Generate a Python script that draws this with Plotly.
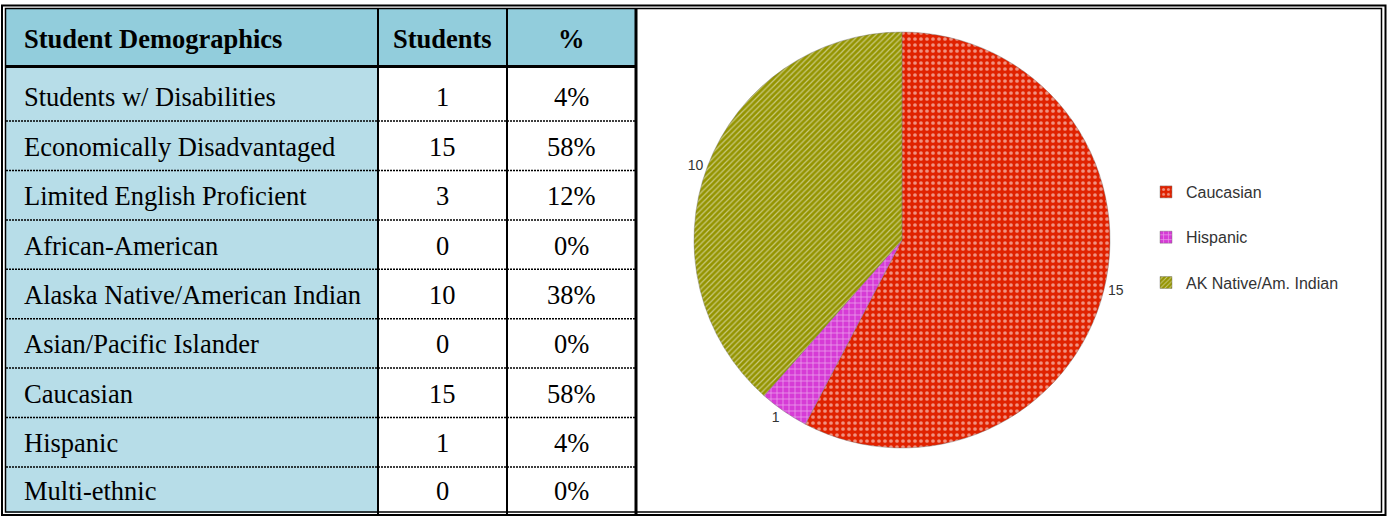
import plotly.graph_objects as go

# ---------------- data ----------------
table_header = ["Student Demographics", "Students", "%"]
categories = [
    "Students w/ Disabilities",
    "Economically Disadvantaged",
    "Limited English Proficient",
    "African-American",
    "Alaska Native/American Indian",
    "Asian/Pacific Islander",
    "Caucasian",
    "Hispanic",
    "Multi-ethnic",
]
students = [1, 15, 3, 0, 10, 0, 15, 1, 0]
percents = ["4%", "58%", "12%", "0%", "38%", "0%", "58%", "4%", "0%"]

pie_labels = ["Caucasian", "Hispanic", "AK Native/Am. Indian"]
pie_values = [15, 1, 10]

# ---------------- styles / layout geometry (pixels) ----------------
W, H = 1387, 517
COL_X = [6, 378, 507, 636]
HEADER_Y = (9, 66.5)
ROW_TOP = 67
ROW_BOUNDS = [ROW_TOP, 121, 170.4, 219.9, 269.3, 318.7, 368.1, 417.6, 467, 513]
HEADER_BG = "#92cddc"
COL1_BG = "#b7dde8"
SERIF = "Liberation Serif, Times New Roman, serif"
SANS = "Liberation Sans, Arial, sans-serif"
FS = 26.5
PIE_COLORS = ["#e02200", "#d63bd6", "#949400"]
PIE_SHAPES = [".", "+", "/"]
PIE_PSIZE = [6, 6, 4]
PIE_SOLID = [0.3, 0.25, 0.3]


def px(x):
    return x / W


def py(y):
    return 1 - y / H


shapes = []
annotations = []

shapes.append(dict(type="rect", xref="paper", yref="paper",
                   x0=px(COL_X[0]), x1=px(COL_X[3]), y0=py(HEADER_Y[0]), y1=py(HEADER_Y[1]),
                   fillcolor=HEADER_BG, line=dict(width=0), layer="below"))
shapes.append(dict(type="rect", xref="paper", yref="paper",
                   x0=px(COL_X[0]), x1=px(COL_X[1]), y0=py(ROW_TOP), y1=py(ROW_BOUNDS[-1]),
                   fillcolor=COL1_BG, line=dict(width=0), layer="below"))

hx = [22, (COL_X[1] + COL_X[2]) / 2, (COL_X[2] + COL_X[3]) / 2]
for i, t in enumerate(table_header):
    annotations.append(dict(xref="paper", yref="paper", x=px(hx[i]),
                            y=py((HEADER_Y[0] + HEADER_Y[1]) / 2 + 1), text="<b>%s</b>" % t,
                            showarrow=False, xanchor="left" if i == 0 else "center",
                            yanchor="middle", font=dict(family=SERIF, size=FS, color="black")))

for r, (cat, n, p) in enumerate(zip(categories, students, percents)):
    yc = (ROW_BOUNDS[r] + ROW_BOUNDS[r + 1]) / 2 + (3 if r == 0 else 1)
    for xv, txt, anc in ((hx[0], cat, "left"), (hx[1], str(n), "center"), (hx[2], p, "center")):
        annotations.append(dict(xref="paper", yref="paper", x=px(xv), y=py(yc), text=txt,
                                showarrow=False, xanchor=anc, yanchor="middle",
                                font=dict(family=SERIF, size=FS, color="black")))

for yb in ROW_BOUNDS[1:-1]:
    shapes.append(dict(type="line", xref="paper", yref="paper",
                       x0=px(COL_X[0]), x1=px(COL_X[3]), y0=py(yb), y1=py(yb),
                       line=dict(color="black", width=1.5, dash="2px,1px")))

shapes.append(dict(type="line", xref="paper", yref="paper",
                   x0=px(COL_X[0]), x1=px(COL_X[3]), y0=py(66.5), y1=py(66.5),
                   line=dict(color="black", width=3)))
for cx in COL_X[1:3]:
    shapes.append(dict(type="line", xref="paper", yref="paper", x0=px(cx), x1=px(cx),
                       y0=py(9), y1=py(514), line=dict(color="black", width=2)))
shapes.append(dict(type="line", xref="paper", yref="paper", x0=px(636), x1=px(636),
                   y0=py(9), y1=py(514), line=dict(color="black", width=3)))

shapes.append(dict(type="rect", xref="paper", yref="paper", x0=px(2), x1=px(1385.5),
                   y0=py(5.5), y1=py(515), line=dict(color="black", width=2)))
shapes.append(dict(type="rect", xref="paper", yref="paper", x0=px(5.5), x1=px(1381.5),
                   y0=py(8.5), y1=py(512), line=dict(color="black", width=1.5)))

fig = go.Figure()

fig.add_trace(go.Pie(
    labels=pie_labels,
    values=pie_values,
    sort=False,
    direction="clockwise",
    rotation=0,
    textposition="outside",
    texttemplate="%{value}",
    textfont=dict(family=SANS, size=14, color="#333333"),
    domain=dict(x=[694 / W, 1110 / W], y=[(H - 448) / H, (H - 32) / H]),
    marker=dict(
        colors=PIE_COLORS,
        line=dict(color="rgba(110,110,110,0.7)", width=0.6),
        pattern=dict(shape=PIE_SHAPES, fgcolor="white", fillmode="overlay",
                     size=PIE_PSIZE, solidity=PIE_SOLID),
    ),
    showlegend=False,
    hoverinfo="label+value",
))

# legend entries (one per pie slice) so that they can be spaced apart
for i, lab in enumerate(pie_labels):
    fig.add_trace(go.Bar(
        x=[None], y=[None], name=lab, legendgroup="g%d" % i, showlegend=True,
        marker=dict(color=PIE_COLORS[i], line=dict(color="rgba(110,110,110,0.7)", width=0.6),
                    pattern=dict(shape=PIE_SHAPES[i], fgcolor="white", fillmode="overlay",
                                 size=PIE_PSIZE[i], solidity=PIE_SOLID[i])),
        hoverinfo="skip",
    ))

fig.update_layout(
    width=W, height=H,
    margin=dict(l=0, r=0, t=0, b=0),
    paper_bgcolor="white",
    plot_bgcolor="rgba(0,0,0,0)",
    xaxis=dict(visible=False, fixedrange=True),
    yaxis=dict(visible=False, fixedrange=True),
    shapes=shapes,
    annotations=annotations,
    legend=dict(x=1146 / W, y=(H - 175) / H, xanchor="left", yanchor="top",
                traceorder="grouped", tracegroupgap=21.5,
                font=dict(family=SANS, size=16, color="#333333"),
                bgcolor="rgba(0,0,0,0)"),
)

fig.write_html("out.html", config={"displayModeBar": False},
               post_script="document.body.style.margin='0';")
